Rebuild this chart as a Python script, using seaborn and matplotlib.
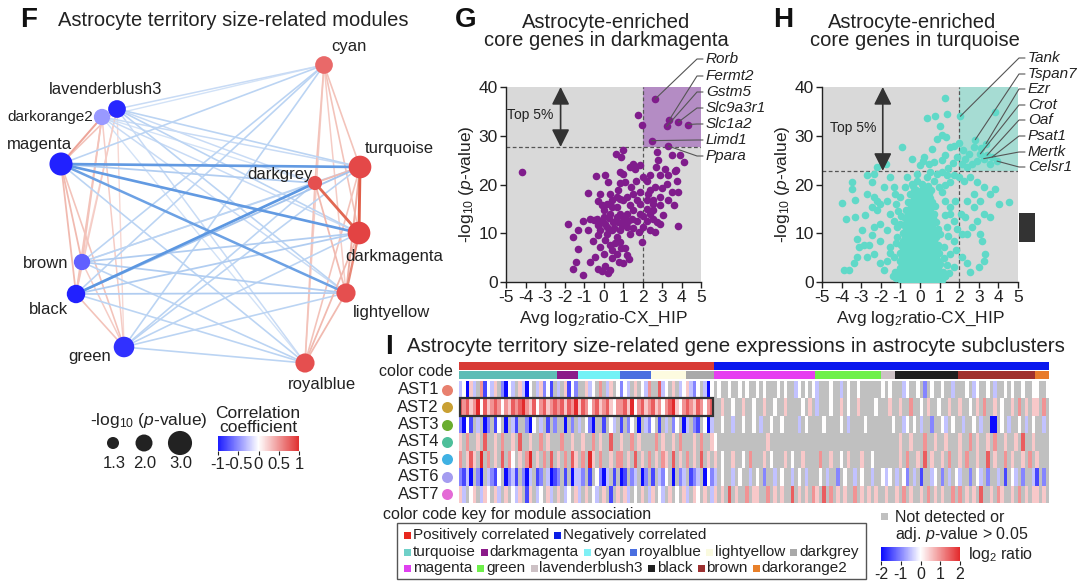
import numpy as np
import pandas as pd
import matplotlib
matplotlib.use("Agg")
import matplotlib.pyplot as plt
import seaborn as sns
from matplotlib.colors import LinearSegmentedColormap, Normalize
from matplotlib.patches import Rectangle
from matplotlib.colorbar import ColorbarBase

# ---------------- Panel F data: module network ----------------
node_names = ["cyan", "lavenderblush3", "darkorange2", "magenta", "turquoise", "darkgrey",
              "darkmagenta", "brown", "black", "lightyellow", "green", "royalblue"]
node_x = [324, 117, 102, 61, 360, 315, 359, 82, 76, 346, 124, 305]
node_y = [65, 109, 117, 164, 167, 183, 233, 262, 294, 293, 347, 363]
node_corr = [0.72, -0.95, -0.45, -0.97, 0.88, 0.85, 0.9, -0.7, -0.97, 0.85, -0.9, 0.85]
node_logp = [2.1, 2.1, 1.9, 2.85, 2.8, 1.6, 2.8, 1.9, 2.2, 2.3, 2.5, 2.3]

edges = [
    ("lavenderblush3", "darkorange2", 0.35), ("lavenderblush3", "magenta", 0.3),
    ("lavenderblush3", "brown", 0.2), ("lavenderblush3", "black", 0.25),
    ("lavenderblush3", "green", 0.2), ("darkorange2", "magenta", 0.45),
    ("darkorange2", "brown", 0.3), ("darkorange2", "black", 0.3),
    ("darkorange2", "green", 0.25), ("magenta", "brown", 0.35),
    ("magenta", "black", 0.35), ("magenta", "green", 0.3),
    ("brown", "black", 0.3), ("brown", "green", 0.25), ("black", "green", 0.3),
    ("cyan", "turquoise", 0.3), ("cyan", "darkgrey", 0.3), ("cyan", "darkmagenta", 0.3),
    ("cyan", "lightyellow", 0.25), ("cyan", "royalblue", 0.25),
    ("turquoise", "darkgrey", 0.35), ("turquoise", "darkmagenta", 0.8),
    ("turquoise", "lightyellow", 0.4), ("turquoise", "royalblue", 0.3),
    ("darkgrey", "darkmagenta", 0.75), ("darkgrey", "lightyellow", 0.35),
    ("darkgrey", "royalblue", 0.3), ("darkmagenta", "lightyellow", 0.6),
    ("darkmagenta", "royalblue", 0.35), ("lightyellow", "royalblue", 0.35),
    ("lavenderblush3", "cyan", -0.25), ("lavenderblush3", "turquoise", -0.3),
    ("lavenderblush3", "darkgrey", -0.25), ("lavenderblush3", "darkmagenta", -0.3),
    ("lavenderblush3", "lightyellow", -0.3), ("lavenderblush3", "royalblue", -0.25),
    ("darkorange2", "cyan", -0.2), ("darkorange2", "turquoise", -0.25),
    ("darkorange2", "darkgrey", -0.2), ("darkorange2", "darkmagenta", -0.25),
    ("darkorange2", "lightyellow", -0.25), ("darkorange2", "royalblue", -0.2),
    ("magenta", "cyan", -0.3), ("magenta", "turquoise", -0.7),
    ("magenta", "darkgrey", -0.35), ("magenta", "darkmagenta", -0.7),
    ("magenta", "lightyellow", -0.65), ("magenta", "royalblue", -0.3),
    ("brown", "cyan", -0.3), ("brown", "turquoise", -0.3),
    ("brown", "darkgrey", -0.25), ("brown", "darkmagenta", -0.35),
    ("brown", "lightyellow", -0.35), ("brown", "royalblue", -0.3),
    ("black", "cyan", -0.3), ("black", "turquoise", -0.4),
    ("black", "darkgrey", -0.72), ("black", "darkmagenta", -0.35),
    ("black", "lightyellow", -0.35), ("black", "royalblue", -0.3),
    ("green", "cyan", -0.3), ("green", "turquoise", -0.3),
    ("green", "darkgrey", -0.3), ("green", "darkmagenta", -0.3),
    ("green", "lightyellow", -0.3), ("green", "royalblue", -0.3),
]
legend_logp = [1.3, 2.0, 3.0]

# ---------------- Panel G data ----------------
g_pts = [
    (2.64, 37.5), (3.38, 33.3), (3.24, 31.9), (3.84, 32.8), (4.32, 32.3), (2.47, 29.0), (3.32, 27.9),
    (1.79, 34.3), (1.96, 32.3),
    (-4.2, 22.5), (0.62, 26.3), (1.02, 27.0), (0.9, 25.6), (2.73, 26.6), (2.78, 25.1), (3.5, 26.1),
    (3.92, 26.1), (3.15, 23.2), (3.72, 22.9), (4.15, 24.7),
    (-1.03, 1.4), (-0.30, 2.7), (-0.09, 2.3), (0.08, 3.3), (0.21, 1.8), (0.33, 2.5), (-1.55, 2.7),
    (-1.41, 4.1), (0.42, 4.9), (1.02, 3.8), (0.81, 4.1), (1.32, 4.8), (0.68, 5.8), (0.03, 5.8),
    (-1.32, 6.8), (0.33, 7.5), (1.1, 7.0), (0.85, 8.2), (-1.55, 9.2), (-1.8, 11.8), (1.96, 8.3),
    (2.64, 10.3), (3.84, 11.5), (2.9, 12.0), (2.21, 12.6), (1.44, 13.0), (-0.78, 10.7), (-0.69, 13.0),
    (-0.35, 13.0), (0.0, 13.3), (-0.18, 10.6), (0.16, 9.9), (0.42, 10.6), (0.68, 9.2), (0.85, 10.6),
    (1.02, 12.0), (1.19, 11.3), (1.36, 9.9), (0.33, 14.0), (0.68, 13.3), (0.85, 14.0), (1.19, 14.0),
    (1.53, 14.7), (1.87, 14.0), (2.38, 14.0), (2.55, 13.0), (2.72, 12.3), (3.07, 13.8), (1.87, 16.1),
    (2.21, 16.8), (2.55, 16.1), (2.9, 17.4), (3.32, 16.8), (3.5, 18.5), (3.75, 20.8), (3.84, 18.5),
    (2.38, 18.8), (2.64, 19.5), (2.21, 20.8), (2.38, 21.9), (2.9, 21.9), (3.24, 20.2), (3.32, 21.9),
    (3.67, 22.7), (1.87, 18.5), (1.53, 18.1), (1.19, 17.4), (0.85, 17.1), (0.42, 16.8), (0.16, 16.1),
    (-0.09, 15.7), (0.0, 14.7), (-0.78, 18.2), (-0.18, 18.1), (0.25, 20.5), (0.85, 20.3), (1.02, 22.2),
    (1.36, 23.6), (1.62, 23.2), (1.87, 23.9), (1.53, 24.3), (1.1, 20.5), (0.76, 18.8), (0.42, 15.4),
    (0.68, 15.4), (1.36, 15.7), (1.7, 16.8), (-0.26, 11.6), (0.08, 12.0), (0.5, 12.3), (0.76, 12.3),
    (1.05, 13.0), (-1.03, 12.6), (-1.29, 10.6), (-0.52, 8.5), (-0.18, 7.2), (-0.44, 5.1), (0.68, 17.4),
    (0.33, 18.1), (1.02, 16.8), (1.39, 19.5), (1.67, 20.8), (0.85, 22.6), (2.04, 21.5), (2.55, 16.8),
    (2.9, 15.7), (2.21, 15.0), (2.55, 14.7), (1.7, 12.6), (2.04, 11.3), (2.38, 10.6),
    (-0.5, 12.8), (-0.1, 12.4), (0.2, 11.2), (0.55, 11.0), (0.3, 13.1), (0.95, 11.6), (1.25, 12.6),
    (0.6, 8.0), (0.1, 8.6), (-0.3, 9.6), (1.5, 11.0), (1.8, 10.2), (2.0, 13.5), (0.45, 6.5),
    (-0.7, 4.2), (0.9, 6.9), (1.2, 5.5), (2.3, 18.0), (3.0, 19.2), (3.6, 15.8), (2.7, 23.5),
    (0.1, 22.0), (-0.4, 21.8), (-0.3, 16.7),
]
g_cut = 27.7
g_genes = ["Rorb", "Fermt2", "Gstm5", "Slc9a3r1", "Slc1a2", "Limd1", "Ppara"]
g_gene_x = [2.64, 3.38, 3.24, 3.84, 4.32, 2.47, 3.32]
g_gene_y = [37.5, 33.3, 31.9, 32.8, 32.3, 29.0, 27.9]

# ---------------- Panel H data ----------------
h_top = [
    (1.26, 37.8), (1.38, 34.5), (0.36, 33.6), (0.78, 34.0), (-0.92, 27.7), (1.04, 31.9), (1.12, 30.1),
    (1.34, 29.7), (0.87, 29.4), (1.55, 27.7), (1.72, 27.8), (2.06, 34.0), (3.84, 34.9), (2.82, 29.2),
    (3.37, 28.4), (2.74, 27.7), (3.08, 26.3), (3.42, 26.0), (3.67, 25.6), (3.25, 25.3), (3.93, 24.8),
    (2.48, 26.3), (2.31, 25.3), (2.91, 24.9), (2.65, 24.3), (2.14, 24.3), (2.4, 23.6), (3.59, 24.3),
    (-0.41, 25.3), (0.15, 24.9), (0.22, 25.6), (0.44, 24.3), (0.7, 24.6), (-0.02, 23.9), (-1.72, 24.3),
    (-2.19, 23.6), (1.1, 25.0), (1.3, 26.0), (1.7, 24.5), (0.6, 27.3), (1.45, 23.4), (1.9, 25.6),
    (2.2, 27.0), (3.1, 27.5), (2.0, 28.6),
]
h_side = [
    (-2.36, 22.2), (-2.7, 21.9), (-2.45, 20.5), (-3.47, 20.5), (-3.47, 19.1), (-3.3, 16.9), (-3.98, 16.2),
    (-3.78, 12.9), (-3.3, 13.3), (-2.79, 13.7), (-2.7, 18.1), (-2.36, 17.4), (-2.19, 16.7), (-2.02, 16.1),
    (-2.19, 14.7), (-2.45, 15.4), (-1.85, 19.5), (-1.51, 21.5), (-1.34, 19.5), (-1.68, 16.7), (-1.51, 14.0),
    (-1.26, 18.1), (-1.0, 17.4), (-0.75, 19.5), (-0.66, 21.5), (-0.41, 20.2), (-0.15, 20.8), (-0.15, 22.2),
    (0.1, 20.2), (0.36, 21.5), (0.53, 22.6), (0.87, 22.2), (1.12, 22.6), (1.38, 21.9), (1.72, 21.9),
    (1.55, 20.5), (1.97, 21.5),
    (2.23, 20.8), (2.57, 21.5), (2.91, 20.5), (3.25, 19.5), (3.84, 19.1), (4.01, 15.9), (3.59, 18.1),
    (3.08, 16.7), (2.74, 15.4), (3.25, 14.0), (2.91, 12.6), (3.59, 13.3), (3.08, 9.9), (3.16, 8.5),
    (3.33, 5.8), (3.25, 4.4), (3.0, 3.1), (2.57, 2.0), (2.4, 3.8), (2.14, 5.1), (2.4, 9.9), (2.31, 13.3),
    (2.65, 11.3), (2.74, 18.1), (2.4, 16.7), (2.09, 14.0), (2.14, 9.9), (4.52, 16.4),
    (-3.9, 2.4), (-3.64, 2.4), (-3.38, 3.8), (-3.13, 7.2), (-2.87, 7.5), (-2.62, 7.5), (-3.21, 5.1),
    (-2.7, 5.1), (-3.21, 8.9), (-2.96, 10.6), (-2.45, 9.6), (-2.36, 11.3), (-2.02, 12.0), (-1.68, 10.6),
    (-2.02, 8.5), (-2.36, 5.8), (-2.02, 3.8), (-1.85, 2.4), (-1.68, 4.4), (-1.34, 5.1), (-1.51, 7.2),
    (-1.17, 9.2), (-1.17, 11.3), (-1.34, 12.6), (-1.3, 2.0), (-1.2, 0.8), (-1.4, 1.2), (-1.55, 6.0),
    (-1.1, 14.5), (-1.2, 16.0), (-0.95, 13.5), (-1.0, 11.8), (-1.25, 7.9),
    (1.38, 3.4), (1.72, 3.1), (1.55, 5.8), (1.21, 7.2), (1.04, 9.9), (1.38, 11.3), (1.72, 12.6),
    (1.55, 15.4), (1.8, 16.7), (1.29, 16.7), (1.72, 8.5), (1.55, 14.0), (1.3, 1.2), (1.45, 9.5),
    (1.25, 13.8), (1.1, 18.5), (0.95, 19.5), (1.2, 5.0), (1.5, 1.8), (1.85, 6.5), (1.9, 10.8),
    (1.3, 20.0), (0.7, 20.8), (-0.3, 18.6),
]
h_core_y = [0.4, 1.2, 2.0, 2.8, 3.6, 4.4, 5.2, 6.0, 6.8, 7.6, 8.4, 9.2, 10.0, 10.8, 11.6, 12.4,
            13.2, 14.0, 14.8, 15.6, 16.4, 17.2, 18.0, 18.8, 19.6]
h_core_x = [
    [-0.97, -0.8, -0.62, -0.45, -0.27, -0.1, 0.08, 0.25, 0.43, 0.6, 0.78, 0.95, 1.12],
    [-1.05, -0.88, -0.7, -0.53, -0.36, -0.18, 0.0, 0.17, 0.34, 0.52, 0.69, 0.87, 1.05, 1.3],
    [-0.98, -0.8, -0.63, -0.45, -0.28, -0.1, 0.07, 0.26, 0.44, 0.61, 0.79, 0.96, 1.15],
    [-1.02, -0.85, -0.67, -0.5, -0.32, -0.15, 0.03, 0.2, 0.38, 0.55, 0.73, 0.9],
    [-0.9, -0.77, -0.6, -0.42, -0.25, -0.07, 0.1, 0.28, 0.45, 0.63, 0.8, 1.02],
    [-1.0, -0.83, -0.65, -0.48, -0.3, -0.13, 0.05, 0.22, 0.4, 0.57, 0.75, 0.92],
    [-0.93, -0.75, -0.58, -0.4, -0.23, -0.05, 0.12, 0.3, 0.47, 0.65, 0.82],
    [-1.0, -0.82, -0.65, -0.47, -0.3, -0.12, 0.05, 0.23, 0.4, 0.58, 0.75, 0.99],
    [-0.86, -0.72, -0.55, -0.37, -0.2, -0.02, 0.15, 0.33, 0.5, 0.68, 0.85],
    [-0.97, -0.8, -0.62, -0.45, -0.27, -0.1, 0.08, 0.25, 0.43, 0.6, 0.9],
    [-0.88, -0.7, -0.53, -0.35, -0.18, 0.0, 0.17, 0.35, 0.52, 0.7],
    [-0.78, -0.6, -0.43, -0.25, -0.08, 0.1, 0.27, 0.45, 0.62, 0.84],
    [-0.85, -0.68, -0.5, -0.33, -0.15, 0.02, 0.2, 0.37, 0.55, 0.72],
    [-0.73, -0.55, -0.38, -0.2, -0.03, 0.15, 0.32, 0.5, 0.67, 0.9],
    [-0.8, -0.62, -0.45, -0.27, -0.1, 0.08, 0.25, 0.43, 0.6],
    [-0.67, -0.5, -0.32, -0.15, 0.03, 0.2, 0.38, 0.55, 0.8],
    [-0.75, -0.58, -0.4, -0.23, -0.05, 0.12, 0.3, 0.47, 0.65],
    [-0.6, -0.42, -0.25, -0.07, 0.1, 0.28, 0.45, 0.72],
    [-0.7, -0.52, -0.35, -0.17, 0.0, 0.18, 0.35, 0.53],
    [-0.45, -0.28, -0.1, 0.07, 0.25, 0.42, 0.77],
    [-0.6, -0.4, -0.2, 0.0, 0.2, 0.4, 0.62],
    [-0.33, -0.12, 0.1, 0.3, 0.52],
    [-0.5, -0.25, 0.0, 0.22, 0.45],
    [-0.18, 0.08, 0.32, 0.58],
    [-0.35, 0.15, 0.4],
]
h_cut = 22.8
h_genes = ["Tank", "Tspan7", "Ezr", "Crot", "Oaf", "Psat1", "Mertk", "Celsr1"]
h_gene_x = [2.06, 2.82, 3.37, 3.08, 3.42, 3.67, 3.25, 3.93]
h_gene_y = [34.0, 29.2, 28.4, 26.3, 26.0, 25.6, 25.3, 24.8]

# ---------------- Panel I data: heatmap ----------------
ast_names = ["AST1", "AST2", "AST3", "AST4", "AST5", "AST6", "AST7"]
ast_colors = ["#e8806e", "#c9a033", "#6aad2f", "#4dbf9a", "#3fb1e3", "#a49cf0", "#e46ad6"]
module_names = ["turquoise", "darkmagenta", "cyan", "royalblue", "lightyellow", "darkgrey",
                "magenta", "green", "lavenderblush3", "black", "brown", "darkorange2"]
module_counts = [28, 6, 12, 9, 10, 8, 29, 19, 4, 18, 22, 4]
module_colors = ["#5fbdb6", "#8b1a89", "#72f2f6", "#4a6fe0", "#fdfbe0", "#a9a9a9",
                 "#e63ef0", "#6ef04a", "#cdc1c5", "#1f1f1f", "#a0302c", "#e87a2a"]
assoc_names = ["Positively correlated", "Negatively correlated"]
assoc_counts = [73, 96]
assoc_colors = ["#d83b36", "#0a18ee"]
# codes: '.' not detected, '0' zero, '1'..'4' positive log2 ratio, 'a'..'d' negative
hm_codes = [
    ["a0d1 a.2c 0a1. bd0a .1ad 0.a1 b0c.", "a.1c 0b", "..1a 0.2. a1.0", "b0a. 1.0a 2", "..3a 0.1. a0", "1ab0 .ad0",
     ".0.. 0..0 .0.. 0.0. ..0. 0..a 0.0. 0", "a... 0..a .0.. 0... ...", "0.0.", "..a0 ..0. b.0. .0.. a.",
     "..0. a0.. 0.a. .0.0 ..0. .0", "0..0"],
    ["3231 2403 1232 0213 2342 1302 3123", "2313 24", "1320 2312 3102", "2314 0231 2", "3120 2341 02", "3213 2023",
     "..1. .0.. 1..0 ..1. .0.. 1... .0.1 .", "a... 0..1 .0.. 1... .0.", "..1.", ".1.. 2..0 .1.. 0..1 ..",
     "1..0 .1.2 ..1. 0..1 .2.1 .1", "1.2."],
    ["bd0c .a.d b.c0 .d.a c..b d0.a .c.b", "..d. b.", "a.0b d..c .0a.", "c.b0 .d.a b", "0.c. a.b0 .d", "a.bc .0da",
     "..0. .a.. 0..0 .a.. 0..0 .... a.0. .", "..0. ...0 .a.. ..0. ...", "...0", "..a0 .0.a ..b. .0a. 0.",
     ".a.. 0.a. .dd. 0.a. .0.a .0", "..a."],
    ["1.2. .1.3 ..1. 2..1 .3.. 1..2 .1..", ".2.. 1.", ".1.. 2.1. .3..", "1..2 .1.. .", ".2.1 ..1. 2.", "..1. 2..1",
     "0... .... .... ...1 .... .... .... .", ".... .... .... .... ...", "....", ".1.. 1... 2..1 ..1. ..",
     "1..2 .1.. 1.2. .1.. 1.3. .1", "...."],
    ["2.13 1.4. 2.1. 3.20 .1.2 4.1. 2.3.", "1.2. 31", ".2.4 1.2. .1.2", "2.1. 3.1. 2", ".1.2 1.3. 1.", "2.1. 3.1.",
     "1.0. .1.. 0.2. ..1. 0... 1.0. .1.. .", ".2.. 1..0 .1.. .1.. 0..", "....", ".1.2 ..1. 3.1. .1.2 ..",
     "1.2. .1.. 3.1. .2.1 ..1. 2.", "1..."],
    ["bcad .bd. abc0 .dba c.bd a.cb .adc", "b.c. da", "ab.c .0bd a.c.", "dc.b a.db .", "c.ab 0.d. ba", ".cba .d0b",
     "a.0. .a.0 ..a. 0.b. .a.0 ..a. 0.a. .", ".0.a ..b. 0..a .0.. a..", "0a0.", "a.0b .a.c ..a0 .b.a .0",
     "a..b .0a. b..a .c.0 a.b. .a", "c.b."],
    ["1a.0 1.a1 0.1a .1.0 a1.c 1.a0 .1a.", "1.a0 .1", "a.1. 0a.1 .c.1", ".1a. 0.1. a", "1.0a .1.0 .1", "a.10 .1.a",
     "1.1. 3.1. .2.1 1..2 .1.1 ..3. 1.1. 2", "1.3. 2.1. 1..2 .1.1 .1.", ".1..", "1.2. 1..1 .2.1 .1.. 2.",
     "2.1. 1.3. .1.2 1..1 .2.1 .1", "1.1."],
]
code_val = {".": np.nan, "0": 0.0, "1": 0.5, "2": 1.0, "3": 1.5, "4": 2.0,
            "a": -0.5, "b": -1.0, "c": -1.5, "d": -2.0}
key_line1 = [("Positively correlated", "#e8281e"), ("Negatively correlated", "#0a1ee6")]
key_line2 = [("turquoise", "#6fd0c8"), ("darkmagenta", "#8b1a89"), ("cyan", "#7ff0f5"),
             ("royalblue", "#4a6fe0"), ("lightyellow", "#fafadf"), ("darkgrey", "#a9a9a9")]
key_line3 = [("magenta", "#e040f0"), ("green", "#6ef04a"), ("lavenderblush3", "#cdc1c5"),
             ("black", "#222222"), ("brown", "#9c3030"), ("darkorange2", "#e8802a")]

# ---------------- style ----------------
sns.set_theme(style="white")
plt.rcParams["font.family"] = ["Liberation Sans", "DejaVu Sans"]
plt.rcParams["axes.unicode_minus"] = False
plt.rcParams["mathtext.fontset"] = "custom"
plt.rcParams["mathtext.rm"] = "Liberation Sans"
plt.rcParams["mathtext.it"] = "Liberation Sans:italic"
plt.rcParams["mathtext.bf"] = "Liberation Sans:bold"
TXT = "#222222"

W, H = 1080, 586
fig = plt.figure(figsize=(W / 100, H / 100), dpi=100)


def fax(l, t, w, h):
    return fig.add_axes([l / W, 1 - (t + h) / H, w / W, h / H])


corr_cmap = LinearSegmentedColormap.from_list("corr", ["#1c1cff", "#ffffff", "#e03030"])
edge_cmap = LinearSegmentedColormap.from_list("edge", ["#1f6fd6", "#ffffff", "#d8381c"])
hm_cmap = LinearSegmentedColormap.from_list("hm", ["#0a0aff", "#ffffff", "#e3292b"])
norm1 = Normalize(-1, 1)


def size_s(v):
    d = 7.1 * v + 2.8
    return (d * 0.72) ** 2


# ---------------- Panel F ----------------
axF = fax(0, 40, 420, 350)
axF.set_xlim(0, 420)
axF.set_ylim(390, 40)
axF.axis("off")
pos = {n: (x, y) for n, x, y in zip(node_names, node_x, node_y)}
for a, b, r in sorted(edges, key=lambda e: abs(e[2])):
    (x1, y1), (x2, y2) = pos[a], pos[b]
    lw = 1.0 + 1.1 * max(0.0, abs(r) - 0.2) / 0.6
    axF.plot([x1, x2], [y1, y2], color=edge_cmap(norm1(r)), lw=lw, solid_capstyle="round", zorder=1 + abs(r))
axF.scatter(node_x, node_y, s=[size_s(v) for v in node_logp],
            c=[corr_cmap(norm1(r)) for r in node_corr], linewidths=0, zorder=5)
lab_off = {"cyan": (25, -18, "center"), "lavenderblush3": (-11, -19, "center"),
           "darkorange2": (-9, 0, "right"), "magenta": (-22, -20, "center"),
           "turquoise": (5, -18, "left"), "darkgrey": (-2, -9, "right"),
           "darkmagenta": (-14, 24, "left"), "brown": (-14, 1, "right"),
           "black": (-28, 15, "center"), "lightyellow": (7, 19, "left"),
           "green": (-34, 10, "center"), "royalblue": (17, 22, "center")}
for n, x, y in zip(node_names, node_x, node_y):
    dx, dy, ha = lab_off[n]
    fs = 11 if n == "darkorange2" else 12
    axF.text(x + dx, y + dy, n, fontsize=fs, ha=ha, va="center", color=TXT, zorder=6)


# ---------------- Panels G / H ----------------
def volcano(ax, xs, ys, color, cut, shade, arrow_x, top_x, top_y):
    ax.set_facecolor("#d9d9d9")
    ax.add_patch(Rectangle((2, cut), 3, 40 - cut, color=shade, lw=0, zorder=0.5))
    sns.scatterplot(x=xs, y=ys, ax=ax, color=color, s=30, linewidth=0, zorder=3)
    ax.axhline(cut, color="#555555", ls=(0, (3, 2)), lw=0.9, zorder=2)
    ax.axvline(2, color="#555555", ls=(0, (3, 2)), lw=0.9, zorder=2)
    ax.set_xlim(-5, 5)
    ax.set_ylim(0, 40)
    ax.set_xticks(range(-5, 6))
    ax.set_yticks([0, 10, 20, 30, 40])
    for s in ["top", "right"]:
        ax.spines[s].set_visible(False)
    for s in ["left", "bottom"]:
        ax.spines[s].set_color(TXT)
        ax.spines[s].set_linewidth(1)
    ax.tick_params(bottom=True, left=True, direction="out", length=4, width=1, color=TXT,
                   labelsize=12.5, labelcolor=TXT, pad=2)
    ax.set_xlabel(r"Avg log$_2$ratio-CX_HIP", fontsize=12.5, color=TXT, labelpad=3)
    ax.set_ylabel(r"-log$_{10}$ ($p$-value)", fontsize=12.5, color=TXT, labelpad=2)
    ax.annotate("", xy=(arrow_x, cut), xytext=(arrow_x, 40),
                arrowprops=dict(arrowstyle="<|-|>,head_length=0.9,head_width=0.45", color="#333333",
                                lw=1.2, shrinkA=0, shrinkB=0), zorder=4)
    ax.text(top_x, top_y, "Top 5%", fontsize=10, ha="center", va="center", color=TXT, zorder=4)


axG = fax(506, 87, 195, 195)
volcano(axG, [p[0] for p in g_pts], [p[1] for p in g_pts], "#801c8c", g_cut, "#b48cc4", -2.2, -3.75, 34.3)

axH = fax(822, 87, 196, 195)
h_all = h_top + h_side
h_xs = [p[0] for p in h_all]
h_ys = [p[1] for p in h_all]
for yv, row in zip(h_core_y, h_core_x):
    h_xs += row
    h_ys += [yv] * len(row)
volcano(axH, h_xs, h_ys, "#60d9c8", h_cut, "#a6dcd3", -1.9, -3.4, 31.6)

# ---------------- Panel I ----------------
rows = []
for segs in hm_codes:
    vals = []
    for seg, n in zip(segs, module_counts):
        s = (seg.replace(" ", "") + "." * n)[:n]
        vals += [code_val[ch] for ch in s]
    rows.append(vals)
df = pd.DataFrame(rows, index=ast_names)
ncol = df.shape[1]

axI = fax(459, 381, 590, 122)
axI.set_facecolor("#c0c0c0")
sns.heatmap(df, ax=axI, cmap=hm_cmap, vmin=-2, vmax=2, cbar=False, xticklabels=False, yticklabels=False)
for s in axI.spines.values():
    s.set_visible(False)
axI.set_xlabel("")
axI.set_ylabel("")
axI.add_patch(Rectangle((0.15, 1.0), assoc_counts[0] - 0.3, 1.0, fill=False, ec="#333333", lw=1.6,
                        clip_on=False, zorder=5))

axB1 = fax(459, 362, 590, 8)
axB2 = fax(459, 371, 590, 8)
for axb, counts, cols in [(axB1, assoc_counts, assoc_colors), (axB2, module_counts, module_colors)]:
    starts = np.concatenate([[0], np.cumsum(counts)[:-1]])
    axb.broken_barh(list(zip(starts, counts)), (0, 1), facecolors=cols, linewidth=0)
    axb.set_xlim(0, ncol)
    axb.set_ylim(0, 1)
    axb.axis("off")

# colorbars
caxF = fax(218, 436, 81, 15)
cbF = ColorbarBase(caxF, cmap=corr_cmap, norm=norm1, orientation="horizontal", ticks=[-1, -0.5, 0, 0.5, 1])
cbF.outline.set_visible(False)
cbF.ax.set_xticklabels(["-1", "-0.5", "0", "0.5", "1"])
caxF.tick_params(bottom=True, direction="out", length=3, width=0.8, color=TXT, labelsize=12, labelcolor=TXT, pad=1)

caxI = fax(881, 547, 79, 14)
cbI = ColorbarBase(caxI, cmap=hm_cmap, norm=Normalize(-2, 2), orientation="horizontal", ticks=[-2, -1, 0, 1, 2])
cbI.outline.set_visible(False)
caxI.tick_params(bottom=True, direction="out", length=3, width=0.8, color=TXT, labelsize=11.5, labelcolor=TXT, pad=1)

# ---------------- overlay (text, leader lines, legends) ----------------
ov = fax(0, 0, W, H)
ov.set_xlim(0, W)
ov.set_ylim(H, 0)
ov.axis("off")

ov.text(20, 20, "F", fontsize=20, fontweight="bold", ha="left", va="center", color="#111")
ov.text(58, 20, "Astrocyte territory size-related modules", fontsize=14.5, ha="left", va="center", color=TXT)
ov.text(466, 20, "G", fontsize=20, fontweight="bold", ha="center", va="center", color="#111")
ov.text(606, 22, "Astrocyte-enriched", fontsize=14.5, ha="center", va="center", color=TXT)
ov.text(606, 40, "core genes in darkmagenta", fontsize=14.5, ha="center", va="center", color=TXT)
ov.text(783, 20, "H", fontsize=20, fontweight="bold", ha="center", va="center", color="#111")
ov.text(912, 22, "Astrocyte-enriched", fontsize=14.5, ha="center", va="center", color=TXT)
ov.text(915, 40, "core genes in turquoise", fontsize=14.5, ha="center", va="center", color=TXT)
ov.text(389, 347, "I", fontsize=20, fontweight="bold", ha="center", va="center", color="#111")
ov.text(407, 347, "Astrocyte territory size-related gene expressions in astrocyte subclusters",
        fontsize=14.8, ha="left", va="center", color=TXT)


def leaders(ax, gx, gy, names, text_x, text_ys):
    for x, y, n, ty in zip(gx, gy, names, text_ys):
        dxp, dyp = ax.transData.transform((x, y))
        px, py = dxp, H - dyp
        ov.plot([px, text_x - 9, text_x - 3], [py, ty, ty], color="#555555", lw=0.8)
        ov.text(text_x, ty, n, fontsize=11, fontstyle="italic", ha="left", va="center", color=TXT)


leaders(axG, g_gene_x, g_gene_y, g_genes, 706, [59, 76, 92, 108, 124, 140, 156])
leaders(axH, h_gene_x, h_gene_y, h_genes, 1028, [58, 74, 89, 105, 120, 136, 152, 167])
ov.add_patch(Rectangle((1019, 213), 16, 29, color="#333333", lw=0))

# F legend
ov.text(149, 420, r"-log$_{10}$ ($p$-value)", fontsize=12.5, ha="center", va="center", color=TXT)
leg_x = [113, 144, 180]
ov.scatter(leg_x, [443] * 3, s=[size_s(v) for v in legend_logp], color="#222222", linewidths=0)
for x, v in zip(leg_x, legend_logp):
    ov.text(x + 1, 463, f"{v:.1f}", fontsize=12, ha="center", va="center", color=TXT)
ov.text(258, 414, "Correlation", fontsize=12.5, ha="center", va="center", color=TXT)
ov.text(258, 428, "coefficient", fontsize=12.5, ha="center", va="center", color=TXT)

# heatmap row labels
ov.text(453, 372, "color code", fontsize=11.5, ha="right", va="center", color=TXT)
row_h = 122 / 7
for i, (n, c) in enumerate(zip(ast_names, ast_colors)):
    yc = 381 + row_h * (i + 0.5)
    ov.text(439, yc, n, fontsize=12, ha="right", va="center", color=TXT)
    ov.scatter([447], [yc], s=(11 * 0.72) ** 2, color=c, linewidths=0)

# bottom legend
ov.text(383, 514, "color code key for module association", fontsize=11.5, ha="left", va="center", color=TXT)
ov.add_patch(Rectangle((397, 523), 469, 56, fill=False, ec="#555555", lw=1))
rend = fig.canvas.get_renderer()


def key_line(items, x0, y):
    x = x0
    for label, col in items:
        ov.add_patch(Rectangle((x, y - 3.5), 7, 7, color=col, lw=0))
        t = ov.text(x + 9, y, label, fontsize=11, ha="left", va="center", color=TXT)
        x = x + 9 + t.get_window_extent(renderer=rend).width + 5


key_line(key_line1, 404, 535)
key_line(key_line2, 404, 552)
key_line(key_line3, 404, 568)

ov.add_patch(Rectangle((881, 513), 7, 7, color="#c0c0c0", lw=0))
ov.text(895, 517, "Not detected or", fontsize=11.5, ha="left", va="center", color=TXT)
ov.text(895, 534, r"adj. $p$-value > 0.05", fontsize=11.5, ha="left", va="center", color=TXT)
ov.text(968, 554, r"log$_2$ ratio", fontsize=11.5, ha="left", va="center", color=TXT)

fig.savefig("out.png", dpi=100)
